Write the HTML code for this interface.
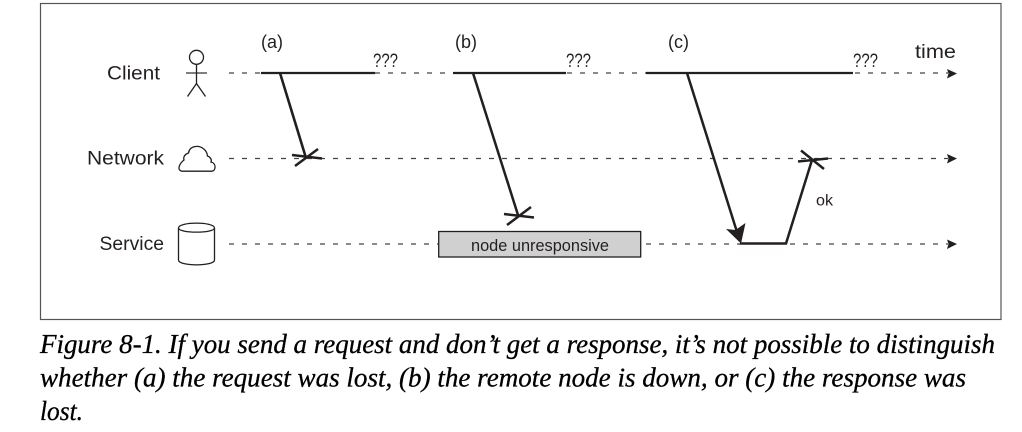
<!DOCTYPE html>
<html>
<head>
<meta charset="utf-8">
<style>
html,body{margin:0;padding:0;background:#fff;width:1022px;height:432px;overflow:hidden}
svg{display:block}
.l{font-family:"Liberation Sans",sans-serif;fill:#231f20}
.c{font-family:"Liberation Serif",serif;font-style:italic;font-size:27px;fill:#000;stroke:#000;stroke-width:.3px}
</style>
</head>
<body>
<svg width="1022" height="432" viewBox="0 0 1022 432" xmlns="http://www.w3.org/2000/svg">
<rect x="40.5" y="3.5" width="960.5" height="316" fill="#fff" stroke="#555" stroke-width="1.2"/>

<g stroke="#444" stroke-width="1.3" stroke-dasharray="5 8" fill="none">
<line x1="229" y1="73" x2="262" y2="73"/>
<line x1="375" y1="73" x2="454" y2="73"/>
<line x1="567" y1="73" x2="646" y2="73"/>
<line x1="855" y1="73" x2="948" y2="73"/>
<line x1="229" y1="158.5" x2="948" y2="158.5"/>
<line x1="229" y1="244" x2="438" y2="244"/>
<line x1="646" y1="244" x2="740" y2="244"/>
<line x1="790" y1="244" x2="948" y2="244"/>
</g>
<g fill="#231f20">
<polygon points="947,69 957,73.5 947,78.5 948.5,73.5"/>
<polygon points="947,154 957,158.5 947,163.5 948.5,158.5"/>
<polygon points="947,239.5 957,244 947,249 948.5,244"/>
</g>

<g stroke="#231f20" fill="none" stroke-width="2.3">
<line x1="261" y1="73" x2="375" y2="73"/>
<line x1="453" y1="73" x2="566" y2="73"/>
<line x1="646" y1="73" x2="853" y2="73"/>
<line x1="280" y1="73" x2="306" y2="158" stroke-width="2.6"/>
<line x1="292" y1="155" x2="322" y2="158.5" stroke-width="2.5"/>
<line x1="295" y1="166" x2="318" y2="149" stroke-width="2.5"/>
<line x1="473" y1="73" x2="518" y2="215" stroke-width="2.5"/>
<line x1="504" y1="214" x2="534" y2="217.5" stroke-width="2.5"/>
<line x1="507" y1="225" x2="531" y2="207" stroke-width="2.5"/>
<line x1="687" y1="73" x2="737" y2="232" stroke-width="2.5"/>
<polyline points="740,243.5 786,243.5 812,160" stroke-width="2.5"/>
<line x1="798" y1="161.5" x2="828" y2="158.5" stroke-width="2.5"/>
<line x1="801" y1="150.5" x2="824" y2="169" stroke-width="2.5"/>
</g>
<polygon points="741,243.5 726,229 735.5,230 745.5,223" fill="#231f20"/>

<g stroke="#231f20" fill="none" stroke-width="1.3">
<circle cx="196.5" cy="57.3" r="7"/>
<line x1="186" y1="73" x2="207" y2="73" stroke="#555" stroke-width="1.6"/>
<line x1="196.5" y1="64" x2="196.5" y2="83.5"/>
<polyline points="187.5,96.5 196.5,83.5 205.5,96.5"/>
<path d="M182,171.2 H212 C216,171 216.5,163 211,162 C212,160 210.5,157 207.5,156 C207,150 201,145.5 195.5,146.5 C191,147 189,150 188.5,153 C185,154 183,157 184,160 C180,163 176,170 182,171.2 Z"/>
<path d="M178.5,228 C178.5,221.5 214.5,221.5 214.5,228 V260 C214.5,266.5 178.5,266.5 178.5,260 Z"/>
<path d="M178.5,228 C178.5,233.5 214.5,233.5 214.5,228"/>
</g>

<rect x="438.7" y="231.5" width="202" height="25.5" fill="#d0d0d0" stroke="#231f20" stroke-width="1.3"/>
<text class="l" x="471" y="251" font-size="16.5" textLength="138" lengthAdjust="spacingAndGlyphs">node unresponsive</text>

<g>
<text class="l" x="107" y="79.5" font-size="19.5" textLength="53" lengthAdjust="spacingAndGlyphs">Client</text>
<text class="l" x="87" y="164.5" font-size="19.5" textLength="77" lengthAdjust="spacingAndGlyphs">Network</text>
<text class="l" x="99.5" y="250" font-size="19.5" textLength="64.5" lengthAdjust="spacingAndGlyphs">Service</text>
<text class="l" x="261" y="48" font-size="18" textLength="22" lengthAdjust="spacingAndGlyphs">(a)</text>
<text class="l" x="455" y="48" font-size="18" textLength="22" lengthAdjust="spacingAndGlyphs">(b)</text>
<text class="l" x="668" y="48" font-size="18" textLength="21" lengthAdjust="spacingAndGlyphs">(c)</text>
<text class="l" x="373" y="67" font-size="19" textLength="25" lengthAdjust="spacingAndGlyphs">???</text>
<text class="l" x="566" y="67" font-size="19" textLength="25" lengthAdjust="spacingAndGlyphs">???</text>
<text class="l" x="853" y="67" font-size="19" textLength="25" lengthAdjust="spacingAndGlyphs">???</text>
<text class="l" x="915" y="58" font-size="19.5" textLength="41" lengthAdjust="spacingAndGlyphs">time</text>
<text class="l" x="816" y="205.5" font-size="15.5" textLength="17" lengthAdjust="spacingAndGlyphs">ok</text>
</g>

<text class="c" x="40" y="353" textLength="955" lengthAdjust="spacingAndGlyphs">Figure 8-1. If you send a request and don’t get a response, it’s not possible to distinguish</text>
<text class="c" x="40" y="386.5" textLength="926" lengthAdjust="spacingAndGlyphs">whether (a) the request was lost, (b) the remote node is down, or (c) the response was</text>
<text class="c" x="40" y="420" textLength="43" lengthAdjust="spacingAndGlyphs">lost.</text>
</svg>
</body>
</html>
